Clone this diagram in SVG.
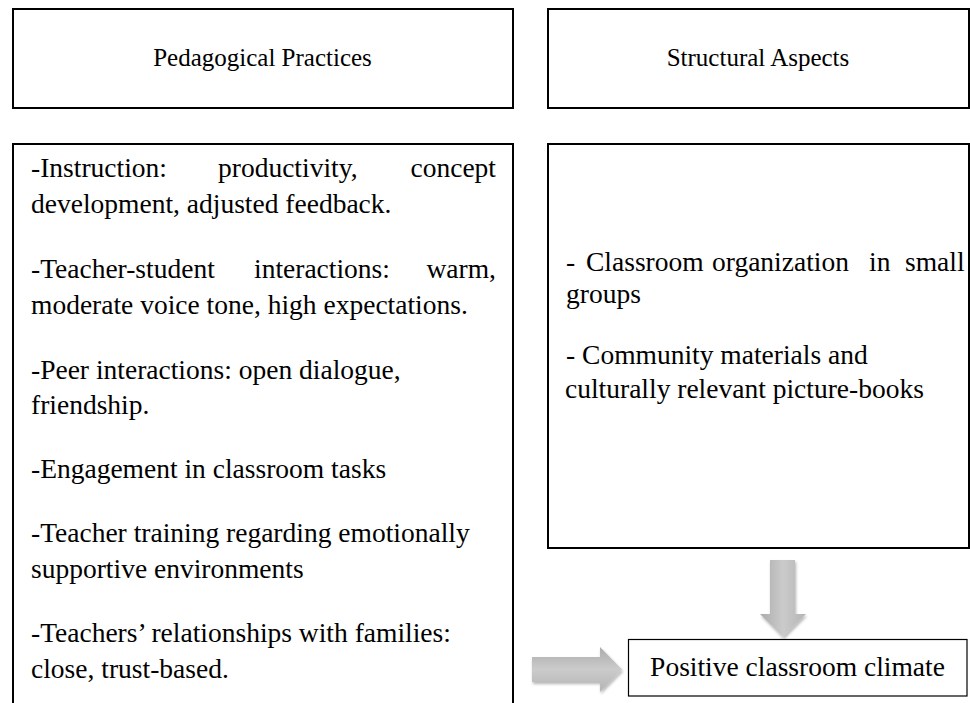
<svg xmlns="http://www.w3.org/2000/svg" width="970" height="703" viewBox="0 0 970 703">
  <style>
    .box { fill: #ffffff; stroke: #000000; stroke-width: 2; }
    .thin { fill: #ffffff; stroke: #000000; stroke-width: 1.2; }
    .head { font-family: "Liberation Serif", "Times New Roman", serif; font-size: 25px; fill: #000; text-anchor: middle; }
    .body { font-family: "Liberation Serif", "Times New Roman", serif; font-size: 27.5px; fill: #000; }
    .arrow { stroke: none; filter: url(#shadow); }
  </style>
  <defs>
    <linearGradient id="gDown" x1="0" y1="0" x2="1" y2="0">
      <stop offset="0" stop-color="#ababab"/>
      <stop offset="0.5" stop-color="#cbcbcb"/>
      <stop offset="1" stop-color="#b4b4b4"/>
    </linearGradient>
    <linearGradient id="gRight" x1="0" y1="0" x2="0" y2="1">
      <stop offset="0" stop-color="#ababab"/>
      <stop offset="0.5" stop-color="#cbcbcb"/>
      <stop offset="1" stop-color="#b4b4b4"/>
    </linearGradient>
    <filter id="shadow" x="-30%" y="-30%" width="160%" height="160%">
      <feGaussianBlur in="SourceAlpha" stdDeviation="1.5"/>
      <feOffset dx="1" dy="2" result="b"/>
      <feComponentTransfer><feFuncA type="linear" slope="0.3"/></feComponentTransfer>
      <feMerge><feMergeNode/><feMergeNode in="SourceGraphic"/></feMerge>
    </filter>
  </defs>
  <rect width="970" height="703" fill="#ffffff"/>

  <g id="node-pedagogical-header">
    <rect class="box" x="13" y="9" width="500" height="99"/>
    <text class="head" x="262.5" y="66">Pedagogical Practices</text>
  </g>

  <g id="node-structural-header">
    <rect class="box" x="548" y="9" width="421" height="99"/>
    <text class="head" x="758" y="66">Structural Aspects</text>
  </g>

  <g id="node-pedagogical-list">
    <rect class="box" x="13" y="144" width="500" height="600"/>
    <text class="body" y="177"><tspan x="31">-Instruction:</tspan><tspan x="218">productivity,</tspan><tspan x="410.5">concept</tspan></text>
    <text class="body" x="31" y="213">development, adjusted feedback.</text>
    <text class="body" y="278"><tspan x="31">-Teacher-student</tspan><tspan x="254">interactions:</tspan><tspan x="426.5">warm,</tspan></text>
    <text class="body" x="31" y="314">moderate voice tone, high expectations.</text>
    <text class="body" x="31" y="379">-Peer interactions: open dialogue,</text>
    <text class="body" x="31" y="414">friendship.</text>
    <text class="body" x="31" y="478">-Engagement in classroom tasks</text>
    <text class="body" x="31" y="542">-Teacher training regarding emotionally</text>
    <text class="body" x="31" y="578">supportive environments</text>
    <text class="body" x="31" y="642">-Teachers’ relationships with families:</text>
    <text class="body" x="31" y="678">close, trust-based.</text>
  </g>

  <g id="node-structural-list">
    <rect class="box" x="548" y="144" width="421" height="404"/>
    <text class="body" y="271"><tspan x="566">-</tspan><tspan x="586">Classroom</tspan><tspan x="712">organization</tspan><tspan x="869">in</tspan><tspan x="905">small</tspan></text>
    <text class="body" x="566" y="303">groups</text>
    <text class="body" x="566" y="364">- Community materials and</text>
    <text class="body" x="565" y="398">culturally relevant picture-books</text>
  </g>

  <g id="node-positive-climate">
    <rect class="thin" x="628.5" y="639.5" width="338.5" height="56.5"/>
    <text class="body" x="797.5" y="676" text-anchor="middle">Positive classroom climate</text>
  </g>

  <g id="connectors">
    <path class="arrow" fill="url(#gDown)" d="M770,560 H795 V614 H806 L783,637 L760,614 H770 Z"/>
    <path class="arrow" fill="url(#gRight)" d="M532,657 H600 V647 L622,669.5 L600,692 V682 H532 Z"/>
  </g>
</svg>
